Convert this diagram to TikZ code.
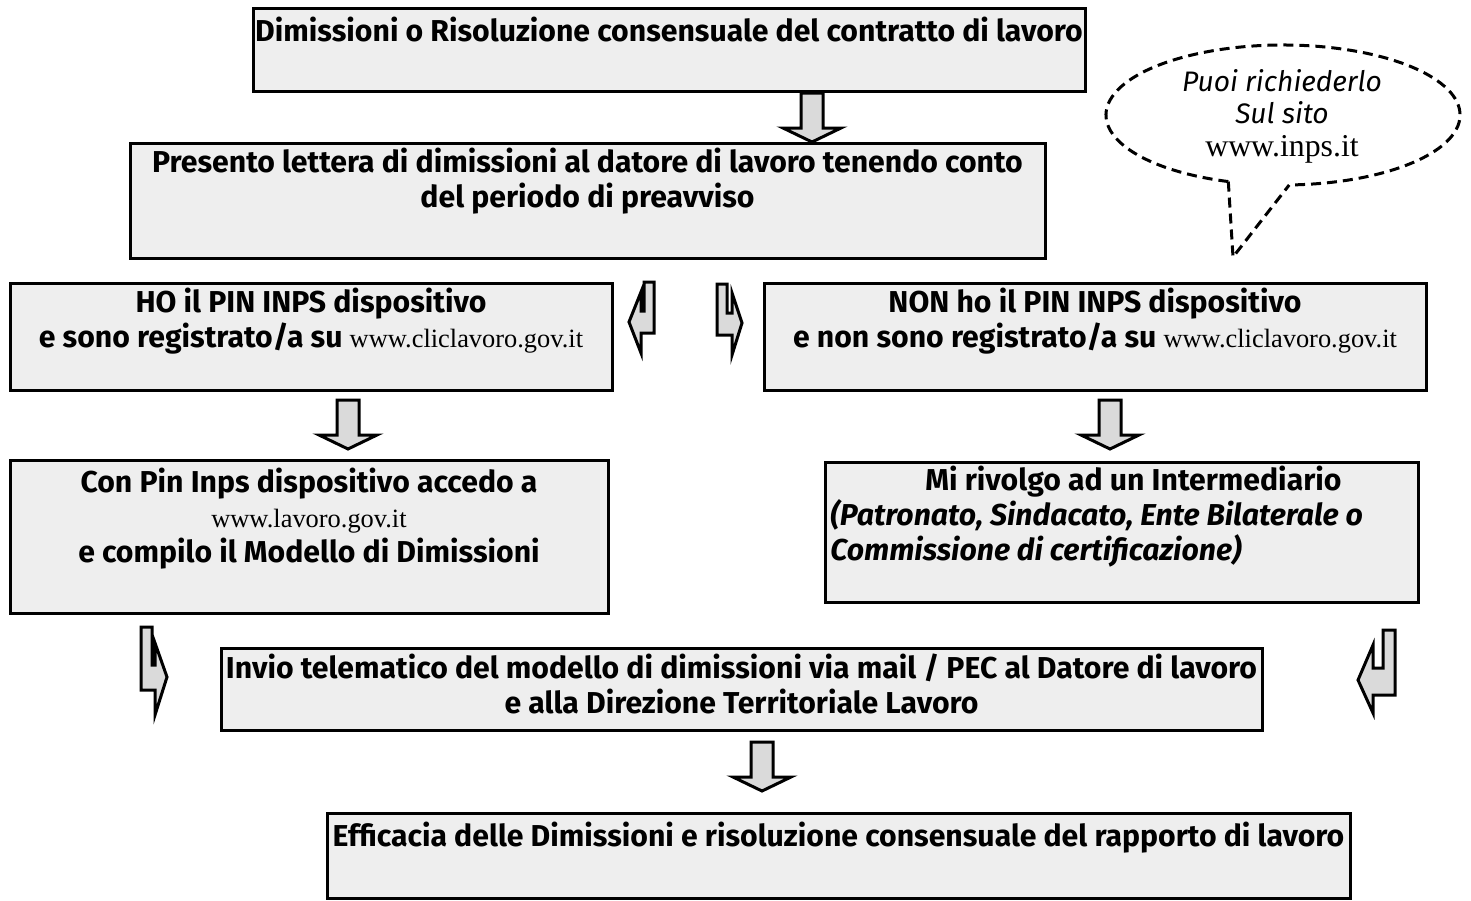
\documentclass[tikz,border=0pt]{standalone}
\usepackage{fontspec}
\setmainfont{Fira Sans}
\newfontfamily\urlfont{Liberation Serif}
\definecolor{boxgrey}{HTML}{EEEEEE}
\definecolor{arrgrey}{HTML}{DADADA}
\tikzset{
  downarr/.pic={
    \filldraw[arrow] (-11,0) -- (-11,35) -- (-29,35) -- (0,49) -- (29,35) -- (11,35) -- (11,0) -- cycle;
  }
}
\newcommand{\web}[1]{{\urlfont\mdseries\upshape\fontsize{13.2}{17.5}\selectfont #1}}

\begin{document}
\begin{tikzpicture}[x=0.5pt,y=-0.5pt]
\tikzstyle{box}=[rectangle,draw=black,fill=boxgrey,line width=1.5pt,inner sep=0pt]
\tikzstyle{txt}=[anchor=base,inner sep=0pt,align=center,font=\bfseries\fontsize{15.1}{17.5}\selectfont]
\tikzstyle{arrow}=[draw=black,fill=arrgrey,line width=1.5pt,line join=miter]
\tikzstyle{cloud}=[draw=black,line width=1.5pt,dash pattern=on 5pt off 3pt]
\useasboundingbox (0,0) rectangle (1471,900);

% boxes
\node[box,minimum width=416pt,minimum height=41.5pt] at (669,49.5) (dimiss) {};
\node[box,minimum width=457.5pt,minimum height=57.5pt] at (587.5,200.5) (lettera) {};
\node[box,minimum width=301pt,minimum height=53.5pt] at (311,336.5) (pin) {};
\node[box,minimum width=331pt,minimum height=53.5pt] at (1095,336.5) (nopin) {};
\node[box,minimum width=299pt,minimum height=76.5pt] at (309,536.5) (accedo) {};
\node[box,minimum width=296.5pt,minimum height=70pt] at (1121.5,532) (interm) {};
\node[box,minimum width=520.5pt,minimum height=41pt] at (741.5,689) (invio) {};
\node[box,minimum width=511.5pt,minimum height=42.5pt] at (838.5,855.5) (efficacia) {};

% texts (anchor base = last line)
\node[txt] at (669,41) (dimisst) {Dimissioni o Risoluzione consensuale del contratto di lavoro};
\node[txt] at (587.5,207) (letterat) {Presento lettera di dimissioni al datore di lavoro tenendo conto\\del periodo di preavviso};
\node[txt] at (311,347) (pint) {HO il PIN INPS dispositivo\\e sono registrato/a su \web{www.cliclavoro.gov.it}};
\node[txt] at (1095,347) (nopint) {NON ho il PIN INPS dispositivo\\e non sono registrato/a su \web{www.cliclavoro.gov.it}};
\node[txt] at (309,562) (accedot) {Con Pin Inps dispositivo accedo a\\\web{www.lavoro.gov.it}\\e compilo il Modello di Dimissioni};
\node[txt,anchor=base west,align=left] at (830,560) (intermt) {\hspace*{47.5pt}Mi rivolgo ad un Intermediario\\\itshape(Patronato, Sindacato, Ente Bilaterale o\\\itshape Commissione di certificazione)};
\node[txt] at (741.5,713) (inviot) {Invio telematico del modello di dimissioni via mail / PEC al Datore di lavoro\\e alla Direzione Territoriale Lavoro};
\node[txt] at (838.5,846) (efficaciat) {Efficacia delle Dimissioni e risoluzione consensuale del rapporto di lavoro};

% down arrows
\pic at (812,93) {downarr};
\pic at (348,400) {downarr};
\pic at (1110,400) {downarr};
\pic at (762,742) {downarr};

% bent arrows
\filldraw[arrow] (654,282) -- (654,333) -- (641,333) -- (641,353) -- (629,322) -- (641,292) -- (641,311) -- (644,311) -- (644,282) -- cycle;
\filldraw[arrow] (717,284) -- (717,335) -- (732,335) -- (732,355) -- (742,323) -- (732,293) -- (732,313) -- (727,313) -- (727,284) -- cycle;
\filldraw[arrow] (141,627) -- (141,690) -- (155,690) -- (155,715) -- (167,677) -- (155,643) -- (155,665) -- (152,665) -- (152,627) -- cycle;
\filldraw[arrow] (1395,630) -- (1395,695) -- (1373,695) -- (1373,713) -- (1358,680) -- (1373,645) -- (1373,668) -- (1383,668) -- (1383,630) -- cycle;

% callout
\coordinate (tip) at (1233,257);
\draw[cloud] (1283,115) ++(108:177 and 70) coordinate (cl) arc[start angle=108,end angle=448,x radius=177,y radius=70] coordinate (cr);
\draw[cloud] (cl) -- (tip) -- (cr);
\node[inner sep=0pt,align=center,anchor=base,font=\itshape\fontsize{14.1}{16.25}\selectfont] at (1282,156) (sito) {Puoi richiederlo\\Sul sito\\{\urlfont\upshape\fontsize{15.9}{16.25}\selectfont www.inps.it}};

\end{tikzpicture}
\end{document}
